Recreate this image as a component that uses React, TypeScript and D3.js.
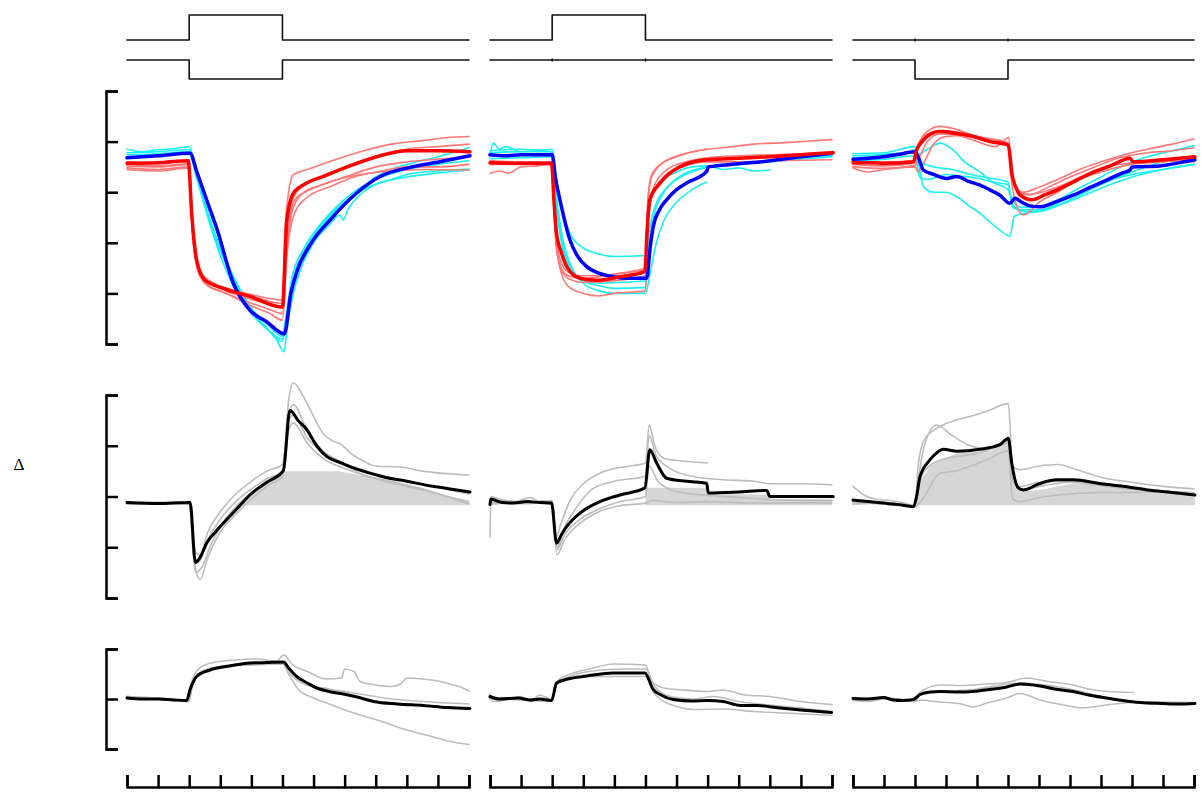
import React, { useEffect, useRef } from 'react';
import * as d3 from 'd3';

type Pt = [number, number];

// time ticks (same for each column), stimulus from 2 to 5
const timeTicks = d3.range(0, 12);
const topTicks = [0, 1, 2, 3, 4, 5];
const deltaTicks = [-2, -1, 0, 1, 2];
const bottomTicks = [-1, 0, 1];

// stimulus traces
const stimUp: Pt[] = [[0, 0], [2, 0], [2, 1], [5, 1], [5, 0], [11, 0]];
const stimDown: Pt[] = [[0, 0], [2, 0], [2, -1], [5, -1], [5, 0], [11, 0]];
const stimFlat: Pt[] = [[0, 0], [11, 0]];
const stimEdges = [2, 5];

// ---- column 1, top panel
const c1Blue: Pt[] = [[0, 3.68], [1, 3.72], [2.03, 3.77], [2.24, 3.41], [2.56, 2.85], [2.88, 2.3], [3.42, 1.2], [3.95, 0.67], [4.49, 0.44], [5.06, 0.2], [5.27, 1.0], [5.48, 1.46], [5.92, 1.99], [6.53, 2.45], [7.38, 2.98], [8.14, 3.31], [9.1, 3.49], [10.06, 3.6], [11.03, 3.72]];
const c1Red: Pt[] = [[0, 3.57], [1, 3.58], [1.97, 3.62], [2.08, 2.58], [2.24, 1.66], [2.51, 1.26], [3.1, 1.1], [3.95, 0.94], [5.0, 0.73], [5.14, 2.45], [5.35, 2.98], [5.78, 3.18], [6.31, 3.31], [7.17, 3.52], [8.14, 3.72], [9.0, 3.82], [10, 3.82], [11.03, 3.8]];
const c1Cyan1: Pt[] = [[0, 3.85], [0.5, 3.8], [1, 3.84], [1.5, 3.86], [2, 3.9], [2.2, 3.5], [2.5, 2.9], [2.9, 2.2], [3.3, 1.5], [3.8, 0.9], [4.3, 0.45], [4.8, 0.1], [5.05, -0.15], [5.15, 0.3], [5.35, 1.0], [5.6, 1.5], [6.0, 2.0], [6.5, 2.35], [6.85, 2.55], [6.95, 2.45], [7.1, 2.65], [7.5, 2.95], [8, 3.15], [8.5, 3.25], [9, 3.35], [10, 3.42], [11, 3.46]];
const c1Cyan2: Pt[] = [[0, 3.78], [1, 3.8], [2, 3.84], [2.2, 3.4], [2.5, 2.75], [2.9, 2.0], [3.4, 1.3], [3.9, 0.75], [4.5, 0.3], [5.0, 0.05], [5.1, 0.4], [5.3, 1.2], [5.6, 1.7], [6, 2.1], [6.5, 2.5], [7, 2.8], [7.5, 3.05], [8, 3.3], [8.5, 3.45], [9, 3.55], [10, 3.7], [11, 3.88]];
const c1Cyan3: Pt[] = [[0, 3.74], [1, 3.76], [2, 3.8], [2.25, 3.3], [2.6, 2.6], [3.0, 1.9], [3.5, 1.2], [4, 0.7], [4.5, 0.4], [5.0, 0.15], [5.1, 0.5], [5.3, 1.3], [5.7, 1.9], [6.2, 2.35], [6.8, 2.75], [7.4, 3.05], [8, 3.25], [9, 3.45], [10, 3.55], [11, 3.62]];
const c1Cyan4: Pt[] = [[0, 3.7], [1, 3.72], [2, 3.76], [2.25, 3.25], [2.6, 2.5], [3.0, 1.75], [3.5, 1.05], [4, 0.6], [4.5, 0.3], [5.0, 0.1], [5.15, 0.6], [5.4, 1.4], [5.8, 1.95], [6.3, 2.4], [7, 2.8], [7.6, 3.05], [8.2, 3.2], [9, 3.3], [10, 3.38], [11, 3.44]];
const c1Pink1: Pt[] = [[0, 3.52], [1, 3.5], [2, 3.55], [2.08, 2.6], [2.2, 1.8], [2.4, 1.4], [2.8, 1.2], [3.5, 1.05], [4.2, 0.95], [5, 0.87], [5.08, 2.2], [5.2, 3.0], [5.35, 3.35], [5.8, 3.45], [6.5, 3.6], [7.5, 3.8], [8.5, 3.95], [9.5, 4.02], [10.3, 4.08], [11, 4.1]];
const c1Pink2: Pt[] = [[0, 3.6], [1, 3.58], [2, 3.62], [2.1, 2.4], [2.25, 1.6], [2.5, 1.3], [3, 1.1], [3.8, 0.92], [4.5, 0.8], [5, 0.72], [5.12, 2.0], [5.3, 2.8], [5.6, 3.1], [6.2, 3.3], [7, 3.5], [8, 3.7], [9, 3.85], [10, 3.9], [11, 3.95]];
const c1Pink3: Pt[] = [[0, 3.48], [1, 3.45], [2, 3.5], [2.1, 2.3], [2.25, 1.5], [2.5, 1.2], [3, 1.05], [3.8, 0.85], [4.5, 0.7], [5, 0.6], [5.15, 1.9], [5.35, 2.7], [5.7, 3.0], [6.3, 3.15], [7, 3.3], [8, 3.5], [9, 3.6], [10, 3.65], [11, 3.7]];
const c1Pink4: Pt[] = [[0, 3.55], [1, 3.52], [2, 3.56], [2.1, 2.2], [2.3, 1.45], [2.6, 1.15], [3.2, 1.0], [4, 0.75], [4.6, 0.6], [5, 0.47], [5.15, 1.8], [5.4, 2.6], [5.8, 2.9], [6.5, 3.1], [7.3, 3.3], [8.2, 3.42], [9, 3.5], [10, 3.5], [11, 3.55]];
const c1Pink5: Pt[] = [[0, 3.45], [1, 3.42], [2, 3.48], [2.1, 2.5], [2.3, 1.5], [2.6, 1.25], [3.2, 1.1], [4, 0.95], [5, 0.8], [5.15, 2.1], [5.4, 2.85], [5.9, 3.05], [6.5, 3.2], [7.5, 3.35], [8.5, 3.42], [9.5, 3.45], [11, 3.44]];

// ---- column 2, top panel
const c2Blue: Pt[] = [[0, 3.74], [0.5, 3.72], [1, 3.74], [2, 3.74], [2.1, 3.3], [2.25, 2.85], [2.57, 2.06], [2.8, 1.75], [3.11, 1.53], [3.5, 1.4], [3.96, 1.33], [4.5, 1.3], [5.04, 1.3], [5.15, 1.9], [5.25, 2.32], [5.45, 2.65], [5.68, 2.85], [6.0, 3.05], [6.32, 3.18], [6.97, 3.41], [7.02, 3.5], [8, 3.56], [9, 3.62], [10, 3.7], [11, 3.77]];
const c2Red: Pt[] = [[0, 3.58], [1, 3.57], [1.98, 3.57], [2.06, 2.8], [2.14, 2.19], [2.3, 1.8], [2.47, 1.53], [2.89, 1.3], [3.43, 1.26], [4.18, 1.33], [4.98, 1.43], [5.05, 2.2], [5.14, 2.85], [5.47, 3.18], [6.1, 3.5], [6.97, 3.64], [8, 3.67], [9, 3.7], [10, 3.74], [11.04, 3.78]];
const c2Cyan1: Pt[] = [[0, 3.7], [0.1, 3.97], [0.3, 3.85], [0.5, 3.9], [1, 3.8], [1.5, 3.82], [2, 3.85], [2.15, 3.2], [2.35, 2.6], [2.6, 2.15], [3, 1.9], [3.5, 1.78], [4, 1.73], [5, 1.75], [5.05, 2.4], [5.2, 2.9], [5.5, 3.2], [6, 3.4], [6.5, 3.5], [7, 3.52], [7.5, 3.45], [8, 3.48], [8.5, 3.42], [9, 3.44]];
const c2Cyan2: Pt[] = [[0, 3.78], [1, 3.8], [2, 3.8], [2.1, 3.1], [2.3, 2.2], [2.6, 1.55], [3, 1.2], [3.5, 1.05], [4, 1.0], [4.5, 1.0], [5, 1.0], [5.15, 1.4], [5.35, 2.0], [5.6, 2.45], [6, 2.8], [6.5, 3.05], [6.97, 3.2]];
const c2Cyan3: Pt[] = [[0, 3.82], [1, 3.85], [2, 3.8], [2.1, 3.0], [2.3, 2.1], [2.6, 1.5], [3, 1.25], [3.5, 1.15], [4, 1.1], [5, 1.12], [5.1, 1.9], [5.3, 2.6], [5.6, 3.0], [6, 3.25], [6.5, 3.4], [7, 3.5], [8, 3.58], [9, 3.62], [10, 3.68], [11, 3.72]];
const c2Cyan4: Pt[] = [[0, 3.66], [1, 3.68], [2, 3.7], [2.1, 2.9], [2.3, 2.0], [2.6, 1.45], [3, 1.25], [3.6, 1.2], [4.3, 1.22], [5, 1.25], [5.1, 2.1], [5.3, 2.7], [5.7, 3.1], [6.2, 3.35], [7, 3.5], [8, 3.55], [9, 3.6], [10, 3.65], [11, 3.7]];
const c2Pink1: Pt[] = [[0, 3.55], [1, 3.55], [2, 3.58], [2.08, 2.5], [2.2, 1.8], [2.45, 1.45], [2.9, 1.35], [3.5, 1.35], [4.2, 1.4], [5, 1.5], [5.08, 2.8], [5.2, 3.3], [5.5, 3.55], [6, 3.7], [6.97, 3.85], [7.5, 3.88], [8.5, 3.95], [9.5, 3.98], [10.5, 4.02], [11, 4.04]];
const c2Pink2: Pt[] = [[0, 3.62], [1, 3.6], [2, 3.6], [2.08, 2.4], [2.2, 1.65], [2.5, 1.35], [3, 1.3], [4, 1.38], [5, 1.48], [5.08, 2.9], [5.2, 3.35], [5.6, 3.6], [6.2, 3.75], [6.97, 3.85]];
const c2Pink3: Pt[] = [[0, 3.37], [0.3, 3.42], [0.6, 3.38], [1, 3.5], [1.5, 3.52], [2, 3.55], [2.1, 2.2], [2.25, 1.5], [2.5, 1.15], [3, 1.0], [3.5, 0.95], [4, 1.0], [5, 1.05], [5.1, 2.5], [5.25, 3.0], [5.6, 3.3], [6.2, 3.5], [7, 3.6], [8, 3.6], [9, 3.62], [10, 3.63], [11, 3.64]];
const c2Pink4: Pt[] = [[0, 3.58], [1, 3.56], [2, 3.58], [2.1, 2.3], [2.25, 1.55], [2.5, 1.3], [3, 1.22], [4, 1.25], [5, 1.35], [5.1, 2.6], [5.3, 3.15], [5.7, 3.45], [6.3, 3.6], [7, 3.68], [8, 3.72], [9, 3.74], [10, 3.76], [11, 3.8]];

// ---- column 3, top panel
const c3Blue: Pt[] = [[0, 3.65], [0.5, 3.67], [0.98, 3.7], [1.5, 3.75], [2.0, 3.8], [2.1, 3.7], [2.27, 3.44], [2.6, 3.35], [3.02, 3.27], [3.35, 3.31], [3.7, 3.22], [4.1, 3.14], [4.5, 3.02], [4.74, 2.94], [5.06, 2.78], [5.23, 2.88], [5.45, 2.8], [5.71, 2.73], [6.03, 2.71], [6.5, 2.8], [7.1, 2.94], [7.6, 3.08], [8.18, 3.24], [8.7, 3.38], [8.94, 3.44], [9.0, 3.5], [9.9, 3.52], [10.5, 3.58], [11.03, 3.64]];
const c3Red: Pt[] = [[0, 3.58], [0.5, 3.58], [1, 3.57], [1.95, 3.6], [2.05, 3.83], [2.2, 3.98], [2.38, 4.1], [2.81, 4.2], [3.35, 4.16], [3.88, 4.1], [4.42, 4.0], [5.01, 3.93], [5.12, 3.37], [5.25, 3.1], [5.39, 2.94], [5.76, 2.85], [6.2, 2.95], [6.57, 3.04], [7.1, 3.2], [7.65, 3.37], [8.3, 3.52], [8.94, 3.67], [9.04, 3.6], [10, 3.64], [11.03, 3.7]];
const c3Cyan1: Pt[] = [[0, 3.72], [1, 3.75], [1.8, 3.8], [2, 3.85], [2.1, 3.6], [2.27, 3.11], [2.6, 3.0], [3.0, 3.0], [3.35, 2.91], [3.7, 2.75], [4.1, 2.58], [4.4, 2.42], [4.74, 2.25], [5.06, 2.13], [5.2, 2.52], [5.5, 2.58], [6, 2.62], [6.5, 2.75], [7, 2.9], [7.5, 3.05], [8, 3.18], [9, 3.35], [10, 3.45], [11, 3.55]];
const c3Cyan2: Pt[] = [[0, 3.68], [1, 3.72], [2, 3.78], [2.1, 3.75], [2.4, 3.85], [2.81, 3.97], [3.2, 3.85], [3.6, 3.6], [4.1, 3.4], [4.5, 3.2], [5.0, 3.05], [5.15, 2.85], [5.4, 2.7], [5.8, 2.7], [6.5, 2.82], [7.2, 3.05], [8, 3.3], [8.8, 3.55], [9.5, 3.7], [10.3, 3.82], [11, 3.92]];
const c3Cyan3: Pt[] = [[0, 3.62], [1, 3.65], [2, 3.72], [2.15, 3.3], [2.4, 3.25], [3, 3.35], [3.4, 3.32], [4, 3.28], [4.5, 3.2], [5, 3.15], [5.15, 2.7], [5.4, 2.65], [6, 2.65], [6.8, 2.78], [7.5, 2.95], [8.3, 3.15], [9, 3.3], [10, 3.45], [11, 3.55]];
const c3Cyan4: Pt[] = [[0, 3.76], [1, 3.78], [2, 3.9], [2.2, 3.6], [2.6, 3.5], [3.2, 3.45], [3.8, 3.35], [4.4, 3.28], [5, 3.2], [5.15, 2.75], [5.5, 2.62], [6, 2.62], [7, 2.85], [8, 3.15], [9, 3.4], [10, 3.6], [11, 3.72]];
const c3Pink1: Pt[] = [[0, 3.55], [1, 3.52], [2, 3.58], [2.1, 3.9], [2.4, 4.2], [2.8, 4.3], [3.3, 4.25], [3.9, 4.12], [4.5, 4.05], [5, 3.98], [5.1, 3.5], [5.25, 3.1], [5.5, 3.0], [6, 3.1], [6.6, 3.25], [7.3, 3.45], [8, 3.6], [8.8, 3.75], [9.5, 3.85], [10.3, 3.95], [11, 4.05]];
const c3Pink2: Pt[] = [[0, 3.5], [1, 3.47], [2, 3.53], [2.15, 3.7], [2.4, 4.0], [2.8, 4.15], [3.4, 4.12], [4, 4.0], [4.6, 3.9], [5.03, 4.08], [5.1, 3.3], [5.3, 2.7], [5.5, 2.55], [6, 2.8], [6.6, 3.0], [7.3, 3.25], [8, 3.4], [9, 3.55], [10, 3.6], [11, 3.65]];
const c3Pink3: Pt[] = [[0, 3.48], [0.5, 3.4], [1, 3.45], [2, 3.5], [2.1, 3.4], [2.3, 3.6], [2.6, 3.95], [3.0, 4.1], [3.6, 4.12], [4.2, 4.05], [4.8, 3.98], [5.05, 3.9], [5.2, 3.2], [5.5, 2.95], [6.1, 3.0], [6.8, 3.15], [7.5, 3.35], [8.2, 3.5], [9, 3.58], [10, 3.62], [11, 3.6]];
const c3Pink4: Pt[] = [[0, 3.6], [1, 3.6], [2, 3.62], [2.1, 3.95], [2.4, 4.15], [2.9, 4.22], [3.5, 4.18], [4, 4.1], [4.6, 4.0], [5, 3.95], [5.12, 3.4], [5.3, 3.05], [5.7, 2.95], [6.3, 3.1], [7, 3.3], [7.8, 3.5], [8.6, 3.68], [9.5, 3.78], [10.3, 3.82], [11, 3.88]];

// ---- Δ panel
const c1DeltaMean: Pt[] = [[0, -0.12], [1, -0.14], [2.03, -0.12], [2.2, -1.3], [2.35, -1.2], [2.56, -0.92], [2.9, -0.66], [3.2, -0.46], [3.6, -0.2], [3.95, 0.03], [4.5, 0.28], [5.03, 0.51], [5.24, 1.7], [5.5, 1.5], [5.78, 1.32], [6.1, 1.0], [6.42, 0.79], [6.8, 0.68], [7.17, 0.59], [7.7, 0.48], [8.23, 0.39], [9, 0.3], [9.84, 0.2], [10.5, 0.14], [11.03, 0.09]];
const c1Delta1: Pt[] = [[0, -0.1], [1, -0.12], [2, -0.1], [2.15, -1.2], [2.3, -1.3], [2.6, -0.85], [3.0, -0.45], [3.5, -0.1], [4, 0.15], [4.5, 0.35], [5, 0.5], [5.2, 1.9], [5.35, 2.24], [5.6, 2.05], [5.9, 1.7], [6.3, 1.25], [6.6, 1.1], [6.9, 1.02], [7.2, 0.85], [7.6, 0.7], [8, 0.6], [8.8, 0.58], [9.5, 0.5], [10.3, 0.45], [11, 0.42]];
const c1Delta2: Pt[] = [[0, -0.12], [1, -0.12], [2, -0.14], [2.2, -1.4], [2.35, -1.64], [2.6, -1.2], [3.0, -0.7], [3.5, -0.35], [4, -0.05], [4.5, 0.2], [5, 0.4], [5.2, 1.6], [5.35, 1.81], [5.8, 1.3], [6.3, 0.9], [6.8, 0.7], [7.5, 0.45], [8.5, 0.3], [9.5, 0.15], [10.3, 0.0], [11, -0.1]];
const c1Delta3: Pt[] = [[0, -0.14], [1, -0.12], [2, -0.12], [2.2, -1.5], [2.4, -1.4], [2.7, -0.95], [3.1, -0.5], [3.6, -0.15], [4.1, 0.12], [4.6, 0.32], [5, 0.46], [5.2, 1.3], [5.35, 1.45], [5.8, 1.05], [6.3, 0.75], [7, 0.55], [8, 0.35], [9, 0.2], [10, 0.05], [11, -0.15]];
const c1Delta4: Pt[] = [[0, -0.15], [2, -0.13], [2.2, -1.1], [2.35, -1.15], [2.6, -0.7], [3, -0.3], [3.5, 0.05], [4, 0.3], [4.5, 0.5], [5, 0.63], [5.2, 1.5], [5.35, 1.6], [5.8, 1.15], [6.4, 0.85], [7, 0.65], [8, 0.45], [9, 0.3], [10, 0.18], [11, 0.05]];
const c1DeltaArea: Pt[] = [[3.45, -0.17], [3.95, 0.03], [4.5, 0.28], [5.03, 0.5], [6.8, 0.5], [7.5, 0.42], [8.5, 0.3], [9.5, 0.15], [10.3, 0.02], [11, -0.1]];

const c2DeltaMean: Pt[] = [[0, -0.16], [0.02, -0.05], [0.4, -0.12], [0.75, -0.13], [1.2, -0.1], [1.6, -0.12], [1.98, -0.13], [2.14, -0.92], [2.3, -0.75], [2.47, -0.59], [2.89, -0.33], [3.54, -0.1], [4.18, 0.03], [4.98, 0.17], [5.14, 0.92], [5.36, 0.66], [5.68, 0.36], [6.32, 0.3], [6.97, 0.26], [7.02, 0.07], [8, 0.09], [8.9, 0.12], [9.0, 0.0], [10, 0.0], [11.04, 0.0]];
const c2Delta1: Pt[] = [[0, -0.8], [0.03, 0.0], [0.3, -0.05], [0.8, -0.1], [1.3, -0.02], [1.6, -0.1], [2, -0.1], [2.12, -0.8], [2.3, -0.5], [2.6, -0.05], [3, 0.25], [3.5, 0.45], [4, 0.55], [4.5, 0.6], [5, 0.66], [5.12, 1.41], [5.3, 1.0], [5.6, 0.75], [6.2, 0.7], [7, 0.66]];
const c2Delta2: Pt[] = [[0, -0.1], [0.5, -0.08], [1, -0.12], [2, -0.08], [2.15, -1.0], [2.4, -0.6], [2.8, -0.2], [3.3, 0.15], [4, 0.3], [5, 0.4], [5.12, 1.2], [5.35, 0.8], [5.8, 0.55], [6.5, 0.4], [7.5, 0.33], [8.5, 0.3], [9, 0.25], [10, 0.25], [11, 0.23]];
const c2Delta3: Pt[] = [[0, -0.15], [1, -0.12], [2, -0.14], [2.15, -1.15], [2.4, -0.85], [2.89, -0.53], [3.5, -0.3], [4.2, -0.18], [5, -0.13], [5.2, -0.08], [6, -0.12], [7, -0.1], [8, -0.12], [9, -0.13], [10, -0.12], [11, -0.13]];
const c2Delta4: Pt[] = [[0, -0.12], [1, -0.14], [2, -0.12], [2.15, -1.05], [2.4, -0.75], [2.9, -0.45], [3.5, -0.25], [4.2, -0.1], [5, 0.0], [5.12, 0.6], [5.4, 0.3], [6, 0.1], [7, 0.02], [8, -0.02], [9, -0.06], [10, -0.08], [11, -0.08]];
const c2DeltaArea: Pt[] = [[5.0, 0.17], [7.0, 0.17], [7.02, 0.05], [9, 0.04], [9.01, -0.05], [11, -0.05]];

const c3DeltaMean: Pt[] = [[0, -0.07], [0.5, -0.1], [0.98, -0.13], [1.5, -0.16], [1.95, -0.2], [2.05, 0.0], [2.16, 0.39], [2.48, 0.72], [2.7, 0.86], [2.91, 0.93], [3.35, 0.89], [4.1, 0.93], [4.74, 1.02], [5.01, 1.15], [5.12, 0.66], [5.33, 0.17], [5.49, 0.13], [6.0, 0.25], [6.57, 0.33], [7.1, 0.33], [8.0, 0.25], [8.72, 0.2], [9.5, 0.13], [10.3, 0.08], [11.03, 0.03]];
const c3Delta1: Pt[] = [[0, -0.1], [1, -0.15], [2, -0.2], [2.1, 0.6], [2.3, 1.12], [2.81, 1.38], [3.3, 1.5], [3.8, 1.58], [4.4, 1.7], [5.01, 1.83], [5.15, 0.59], [5.4, 0.53], [6, 0.6], [6.6, 0.63], [7.2, 0.53], [8, 0.38], [9, 0.28], [10, 0.2], [11, 0.15]];
const c3Delta2: Pt[] = [[0, -0.12], [1, -0.12], [2, -0.18], [2.1, 0.3], [2.3, 1.0], [2.7, 1.41], [3.2, 1.2], [3.7, 1.02], [4.2, 0.95], [4.6, 1.0], [5.01, 1.1], [5.15, 0.4], [5.4, 0.2], [6, 0.28], [7, 0.3], [8, 0.22], [9, 0.15], [10, 0.1], [11, 0.06]];
const c3Delta3: Pt[] = [[0, -0.15], [1, -0.13], [2, -0.2], [2.3, 0.0], [2.8, 0.46], [3.3, 0.5], [3.8, 0.6], [4.4, 0.75], [5.01, 0.9], [5.15, -0.05], [5.4, -0.1], [6, -0.02], [7, 0.05], [8, 0.08], [9, 0.08], [10, 0.1], [11, 0.08]];
const c3Delta4: Pt[] = [[0, 0.2], [0.3, 0.05], [0.7, -0.05], [1.2, -0.08], [1.6, -0.12], [2, -0.18], [2.15, 0.3], [2.5, 0.62], [3, 0.75], [3.5, 0.8], [4, 0.85], [4.5, 0.95], [5.0, 1.05], [5.15, 0.3], [5.5, 0.15], [6.2, 0.22], [7, 0.28], [8, 0.22], [9, 0.15], [10, 0.08], [11, 0.02]];
const c3DeltaArea: Pt[] = [[2.0, -0.18], [2.16, 0.3], [2.5, 0.6], [2.81, 0.72], [3.35, 0.85], [3.88, 0.87], [4.42, 0.9], [5.01, 1.1], [5.17, 0.33], [5.39, 0.1], [6.03, 0.13], [7.1, 0.26], [8.18, 0.23], [9.26, 0.17], [11.03, 0.03]];
const deltaBase = -0.17;

// ---- bottom panel
const c1LowMean: Pt[] = [[0, 0.02], [0.5, 0.0], [1, 0.0], [1.5, -0.02], [1.92, -0.03], [2.03, 0.19], [2.24, 0.45], [2.67, 0.58], [3.3, 0.66], [3.95, 0.72], [4.5, 0.73], [5.03, 0.74], [5.2, 0.62], [5.46, 0.45], [5.8, 0.32], [6.1, 0.22], [6.5, 0.15], [6.96, 0.1], [7.4, 0.04], [7.93, -0.05], [8.7, -0.1], [9.53, -0.13], [10.3, -0.17], [11.03, -0.19]];
const c1Low1: Pt[] = [[0, 0.05], [1, 0.0], [1.9, -0.05], [2.05, 0.2], [2.3, 0.5], [3, 0.65], [4, 0.7], [5, 0.72], [5.2, 0.5], [5.5, 0.2], [6, 0.02], [6.5, -0.1], [7, -0.22], [7.5, -0.32], [8.2, -0.45], [9, -0.62], [9.8, -0.75], [10.4, -0.85], [11, -0.91]];
const c1Low2: Pt[] = [[0, 0.05], [1, 0.02], [1.9, -0.02], [2.05, 0.3], [2.3, 0.6], [2.7, 0.72], [3.5, 0.78], [4.2, 0.8], [4.8, 0.76], [5.05, 0.88], [5.3, 0.7], [5.8, 0.55], [6.4, 0.4], [6.9, 0.42], [7.0, 0.6], [7.3, 0.55], [7.5, 0.35], [8, 0.28], [8.5, 0.25], [8.8, 0.3], [9.0, 0.42], [9.5, 0.4], [10, 0.36], [10.5, 0.28], [10.8, 0.22], [11, 0.16]];
const c1Low3: Pt[] = [[0, 0.0], [1, 0.02], [2, -0.05], [2.1, 0.25], [2.4, 0.55], [3, 0.65], [4, 0.68], [5, 0.7], [5.25, 0.5], [5.7, 0.3], [6.5, 0.2], [7.5, 0.1], [8.5, 0.0], [9.5, -0.05], [10.3, -0.08], [11, -0.1]];

const c2LowMean: Pt[] = [[0, 0.05], [0.3, 0.0], [0.9, 0.02], [1.3, -0.02], [1.6, 0.0], [1.98, -0.03], [2.14, 0.32], [2.5, 0.4], [3.11, 0.46], [3.96, 0.52], [4.5, 0.52], [4.98, 0.52], [5.25, 0.19], [5.5, 0.08], [5.89, -0.01], [6.5, -0.04], [7.0, -0.03], [7.5, -0.05], [8.04, -0.13], [8.6, -0.13], [9.2, -0.17], [10, -0.22], [10.99, -0.27]];
const c2Low1: Pt[] = [[0, 0.1], [0.1, -0.05], [0.6, 0.0], [1, 0.05], [1.3, -0.05], [1.6, 0.08], [2, -0.02], [2.15, 0.35], [2.6, 0.5], [3.2, 0.6], [4, 0.7], [5, 0.68], [5.2, 0.35], [5.6, 0.22], [6.2, 0.18], [7, 0.15], [7.5, 0.18], [8.2, 0.08], [9, 0.05], [10, -0.05], [11, -0.11]];
const c2Low2: Pt[] = [[0, 0.0], [1, -0.02], [2, -0.05], [2.15, 0.3], [2.6, 0.42], [3.5, 0.45], [4.5, 0.45], [5, 0.45], [5.3, 0.1], [6, -0.15], [6.6, -0.21], [7.5, -0.2], [8.5, -0.25], [9.5, -0.28], [11, -0.33]];
const c2Low3: Pt[] = [[0, 0.02], [1, 0.0], [2, -0.04], [2.15, 0.3], [2.8, 0.5], [3.6, 0.58], [4.4, 0.6], [5, 0.6], [5.3, 0.25], [5.8, 0.05], [6.5, 0.0], [7.2, 0.05], [8, -0.05], [9, -0.12], [10, -0.18], [11, -0.25]];

const c3LowMean: Pt[] = [[0, 0.01], [0.5, 0.0], [0.98, 0.03], [1.3, -0.02], [1.6, -0.03], [1.95, -0.01], [2.16, 0.09], [2.5, 0.14], [2.81, 0.15], [3.4, 0.14], [3.88, 0.15], [4.4, 0.19], [4.96, 0.24], [5.39, 0.3], [6.03, 0.26], [6.5, 0.2], [7.1, 0.15], [7.6, 0.08], [8.18, 0.02], [8.7, -0.03], [9.26, -0.07], [10, -0.09], [10.5, -0.1], [11.03, -0.09]];
const c3Low1: Pt[] = [[0, 0.0], [1, 0.02], [2, -0.02], [2.16, 0.13], [2.81, 0.28], [3.5, 0.27], [4.3, 0.3], [4.96, 0.33], [5.6, 0.42], [6.3, 0.35], [7.1, 0.28], [7.6, 0.2], [8.2, 0.15], [9.04, 0.13]];
const c3Low2: Pt[] = [[0, -0.03], [0.5, -0.05], [1, 0.0], [2, -0.05], [2.16, -0.02], [2.81, -0.06], [3.5, -0.1], [3.88, -0.16], [4.3, -0.08], [4.96, 0.02], [5.39, 0.11], [6.03, -0.02], [6.8, -0.12], [7.4, -0.18], [8.18, -0.12], [9.26, -0.06], [10, -0.06], [11.03, -0.07]];
const c3Low3: Pt[] = [[0, 0.02], [1, 0.0], [2, -0.04], [2.2, 0.1], [3, 0.15], [4, 0.2], [5, 0.3], [5.5, 0.32], [6.2, 0.28], [7, 0.2], [8, 0.05], [9, -0.05], [10, -0.08], [11, -0.08]];

const columns = [
  {
    range: [127, 469], stimA: stimUp, stimB: stimDown, markA: false, markB: false,
    cyan: [c1Cyan1, c1Cyan2, c1Cyan3, c1Cyan4], pink: [c1Pink1, c1Pink2, c1Pink3, c1Pink4, c1Pink5], blue: c1Blue, red: c1Red,
    deltaGray: [c1Delta1, c1Delta2, c1Delta3, c1Delta4], deltaMean: c1DeltaMean, deltaArea: c1DeltaArea,
    lowGray: [c1Low1, c1Low2, c1Low3], lowMean: c1LowMean,
  },
  {
    range: [490, 832], stimA: stimUp, stimB: stimFlat, markA: false, markB: true,
    cyan: [c2Cyan1, c2Cyan2, c2Cyan3, c2Cyan4], pink: [c2Pink1, c2Pink2, c2Pink3, c2Pink4], blue: c2Blue, red: c2Red,
    deltaGray: [c2Delta1, c2Delta2, c2Delta3, c2Delta4], deltaMean: c2DeltaMean, deltaArea: c2DeltaArea,
    lowGray: [c2Low1, c2Low2, c2Low3], lowMean: c2LowMean,
  },
  {
    range: [853, 1194], stimA: stimFlat, stimB: stimDown, markA: true, markB: false,
    cyan: [c3Cyan1, c3Cyan2, c3Cyan3, c3Cyan4], pink: [c3Pink1, c3Pink2, c3Pink3, c3Pink4], blue: c3Blue, red: c3Red,
    deltaGray: [c3Delta1, c3Delta2, c3Delta3, c3Delta4], deltaMean: c3DeltaMean, deltaArea: c3DeltaArea,
    lowGray: [c3Low1, c3Low2, c3Low3], lowMean: c3LowMean,
  },
];

export default function App() {
  const ref = useRef<SVGSVGElement>(null);

  useEffect(() => {
    const svg = d3.select(ref.current);
    svg.selectAll('*').remove();

    const yTop = d3.scaleLinear().domain([0, 5]).range([344, 91]);
    const yDelta = d3.scaleLinear().domain([-2, 2]).range([598, 395]);
    const yLow = d3.scaleLinear().domain([-1, 1]).range([749, 649]);
    const yStimA = d3.scaleLinear().domain([0, 1]).range([40, 15]);
    const yStimB = d3.scaleLinear().domain([-1, 0]).range([79, 60]);

    const drawLine = (g: any, data: Pt[], x: any, y: any, color: string, width: number, smooth = true) => {
      const line = d3.line<Pt>().x(d => x(d[0])).y(d => y(d[1]))
        .curve(smooth ? d3.curveMonotoneX : d3.curveLinear);
      g.append('path')
        .attr('d', line(data))
        .attr('fill', 'none')
        .attr('stroke', color)
        .attr('stroke-width', width)
        .attr('stroke-linejoin', 'round')
        .attr('stroke-linecap', 'round');
    };

    columns.forEach(col => {
      const x = d3.scaleLinear().domain([0, 11]).range(col.range);
      const g = svg.append('g');

      // stimulus
      drawLine(g, col.stimA, x, yStimA, '#111', 1.6, false);
      drawLine(g, col.stimB, x, yStimB, '#111', 1.6, false);
      if (col.markA) stimEdges.forEach(e => g.append('line').attr('x1', x(e)).attr('x2', x(e)).attr('y1', yStimA(0) - 1.5).attr('y2', yStimA(0) + 1.5).attr('stroke', '#111').attr('stroke-width', 1.5));
      if (col.markB) stimEdges.forEach(e => g.append('line').attr('x1', x(e)).attr('x2', x(e)).attr('y1', yStimB(0) - 1.5).attr('y2', yStimB(0) + 1.5).attr('stroke', '#111').attr('stroke-width', 1.5));

      // top panel
      col.cyan.forEach(d => drawLine(g, d, x, yTop, '#1af0f0', 1.6));
      col.pink.forEach(d => drawLine(g, d, x, yTop, '#ff7878', 1.6));
      drawLine(g, col.blue, x, yTop, '#0000ff', 3.5);
      drawLine(g, col.red, x, yTop, '#ff0000', 3.5);

      // delta panel
      const area = d3.area<Pt>().x(d => x(d[0])).y0(yDelta(deltaBase)).y1(d => yDelta(d[1]));
      g.append('path').attr('d', area(col.deltaArea)).attr('fill', '#d6d6d6');
      col.deltaGray.forEach(d => drawLine(g, d, x, yDelta, '#bdbdbd', 1.6));
      drawLine(g, col.deltaMean, x, yDelta, '#000', 3);

      // bottom panel
      col.lowGray.forEach(d => drawLine(g, d, x, yLow, '#bdbdbd', 1.6));
      drawLine(g, col.lowMean, x, yLow, '#000', 3);

      // time axis
      const xAxis = d3.axisTop(x).tickValues(timeTicks).tickSize(12).tickFormat(() => '');
      const gx = svg.append('g').attr('transform', 'translate(0,787)').call(xAxis);
      gx.selectAll('path, line').attr('stroke', '#000').attr('stroke-width', 2.5);
    });

    // y axes
    const addY = (y: any, ticks: number[]) => {
      const axis = d3.axisRight(y).tickValues(ticks).tickSize(12).tickFormat(() => '');
      const gy = svg.append('g').attr('transform', 'translate(106,0)').call(axis);
      gy.selectAll('path, line').attr('stroke', '#000').attr('stroke-width', 2.5);
    };
    addY(yTop, topTicks);
    addY(yDelta, deltaTicks);
    addY(yLow, bottomTicks);

    svg.append('text')
      .attr('x', 19)
      .attr('y', 470)
      .attr('text-anchor', 'middle')
      .attr('font-family', 'Liberation Serif, serif')
      .attr('font-size', 17)
      .text('Δ');
  }, []);

  return (
    <svg ref={ref} width={1202} height={795} style={{ position: 'absolute', left: 0, top: 0, background: '#fff' }} />
  );
}
